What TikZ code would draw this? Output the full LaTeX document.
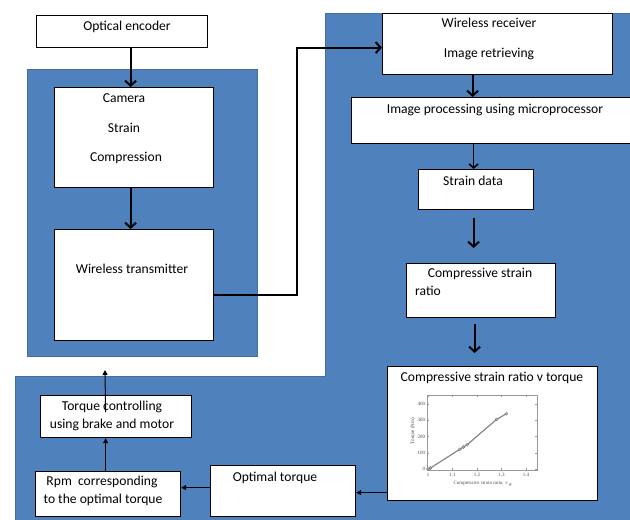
\documentclass[tikz,border=0pt]{standalone}
\usepackage{fontspec}
\setmainfont{Carlito}
\newfontfamily\plotfont{Liberation Serif}
\usetikzlibrary{arrows.meta}
\definecolor{bluebg}{HTML}{4F81BD}
\definecolor{blueedge}{HTML}{41719C}
\definecolor{plotgrey}{HTML}{7F7F7F}
\begin{document}
\begin{tikzpicture}[x=1pt,y=-1pt,
  box/.style={draw=black, fill=white, line width=1.2pt, inner sep=0pt, anchor=north west},
  txt/.style={font=\fontsize{13.6}{16}\selectfont, inner sep=0pt, text height=8pt, text depth=0pt, text=black},
  thk/.style={line width=2pt, -{Straight Barb[length=5pt,width=11pt]}},
  thn/.style={line width=1pt, -{Triangle[length=5pt,width=5pt]}},
  ptxt/.style={font=\plotfont\fontsize{5}{5.5}\selectfont, inner sep=0.6pt, text=black!70},
  dot/.style={circle, draw=plotgrey, fill=plotgrey!60, inner sep=0pt, minimum size=3pt}
]
\useasboundingbox (0,0) rectangle (630,520);
\fill[white] (0,0) rectangle (630,520);
% blue regions
\filldraw[fill=bluebg, draw=blueedge, line width=1pt] (325,13) -- (631,13) -- (631,521) -- (15,521) -- (15,376) -- (325,376) -- cycle;
\filldraw[fill=bluebg, draw=blueedge, line width=1pt] (27,69) rectangle (257,356);

% boxes
\node[box, minimum width=171pt, minimum height=32pt] (enc) at (36,15) {};
\node[box, minimum width=159pt, minimum height=100pt] (cam) at (54,87) {};
\node[box, minimum width=159pt, minimum height=111pt] (tx) at (54,229) {};
\node[box, minimum width=230pt, minimum height=61pt] (rx) at (382,13) {};
\node[box, minimum width=289pt, minimum height=46pt] (proc) at (351,97) {};
\node[box, minimum width=115pt, minimum height=40pt] (sd) at (418,169) {};
\node[box, minimum width=149pt, minimum height=54pt] (csr) at (406,263) {};
\node[box, minimum width=210pt, minimum height=134pt] (chart) at (387,366) {};
\node[box, minimum width=145pt, minimum height=51pt] (opt) at (210,465) {};
\node[box, minimum width=145pt, minimum height=45pt] (rpm) at (35,471) {};
\node[box, minimum width=151pt, minimum height=42pt] (tc) at (40,395) {};

% texts
\node[txt] (t1) at (127,26) {Optical encoder};
\node[txt] (t2) at (124,98) {Camera};
\node[txt] (t3) at (124,128) {Strain};
\node[txt] (t4) at (126,157) {Compression};
\node[txt] (t5) at (132,269) {Wireless transmitter};
\node[txt] (t6) at (489,23) {Wireless receiver};
\node[txt] (t7) at (489,53) {Image retrieving};
\node[txt] (t8) at (495,109) {Image processing using microprocessor};
\node[txt] (t9) at (473,181) {Strain data};
\node[txt] (t10) at (480,273) {Compressive strain};
\node[txt, anchor=west] (t11) at (415,291) {ratio};
\node[txt] (t12) at (492,377) {Compressive strain ratio v torque};
\node[txt] (t13) at (275,477) {Optimal torque};
\node[txt] (t14) at (102,481) {Rpm\ \ corresponding};
\node[txt] (t15) at (103,499) {to the optimal torque};
\node[txt] (t16) at (112,406) {Torque controlling};
\node[txt] (t17) at (112,424) {using brake and motor};

% plot
\draw[plotgrey!80, line width=0.5pt] (427,395) rectangle (537,470);
\foreach \xv/\xl in {428/1, 452.5/1.1, 477/1.2, 501.5/1.3, 526/1.4} {
  \draw[plotgrey!80, line width=0.4pt] (\xv,470) -- (\xv,468) (\xv,395) -- (\xv,397);
  \node[ptxt, anchor=north] at (\xv,472) {\xl};
}
\foreach \yv/\yl in {469/0, 452.75/100, 436.5/200, 420.25/300, 404/400} {
  \draw[plotgrey!80, line width=0.4pt] (427,\yv) -- (429,\yv) (537,\yv) -- (535,\yv);
  \node[ptxt, anchor=east] at (426,\yv) {\yl};
}
\node[ptxt, rotate=90] (ylab) at (413,431) {Torque (Nm)};
\node[ptxt] (xlab) at (483,484) {Compressive strain ratio, $\scriptstyle r_g$};
\draw[plotgrey, line width=1.1pt] (428,469) -- (430.5,468) .. controls (445,459) .. (459.9,449.2) -- (467.2,444.6) .. controls (482,432) .. (496.6,419.4) -- (506.4,413.75);
\foreach \p in {(428,469),(430.5,468),(459.9,449.2),(463.5,447),(467.2,444.6),(496.6,419.4),(506.4,413.75)}
  \node[dot] at \p {};

% connectors
\draw[thk] ([xshift=8.5pt]enc.south) -- ([xshift=-3.5pt]cam.north);
\draw[thk] ([xshift=-3.5pt]cam.south) -- ([xshift=-3.5pt]tx.north);
\draw[thk] ([yshift=-9.5pt]tx.east) -- ++(83,0) |- ([yshift=-3.5pt]rx.west);
\draw[thk] ([xshift=-25pt]rx.south) -- ([xshift=-23.5pt]proc.north);
\draw[line width=1.6pt, -{Straight Barb[length=4pt,width=9pt]}] ([xshift=-22.5pt]proc.south) -- ([xshift=-2.5pt]sd.north);
\draw[thk, shorten <=8pt, shorten >=15pt] ([xshift=-2.5pt]sd.south) -- ([xshift=-7.5pt]csr.north);
\draw[thk, shorten <=6pt, shorten >=13pt] ([xshift=-6.5pt]csr.south) -- ([xshift=-18pt]chart.north);
\draw[thn] ([yshift=-59pt]chart.west) -- ([yshift=-1.5pt]opt.east);
\draw[thn] ([yshift=3.5pt]opt.west) -- ([yshift=6.5pt]rpm.east);
\draw[thn] ([xshift=-2.5pt]rpm.north) -- ([xshift=-10.5pt]tc.south);
\coordinate (upend) at (105,370);
\draw[thn] ([xshift=-10.5pt,yshift=-17pt]tc.north) -- (upend);
\end{tikzpicture}
\end{document}
